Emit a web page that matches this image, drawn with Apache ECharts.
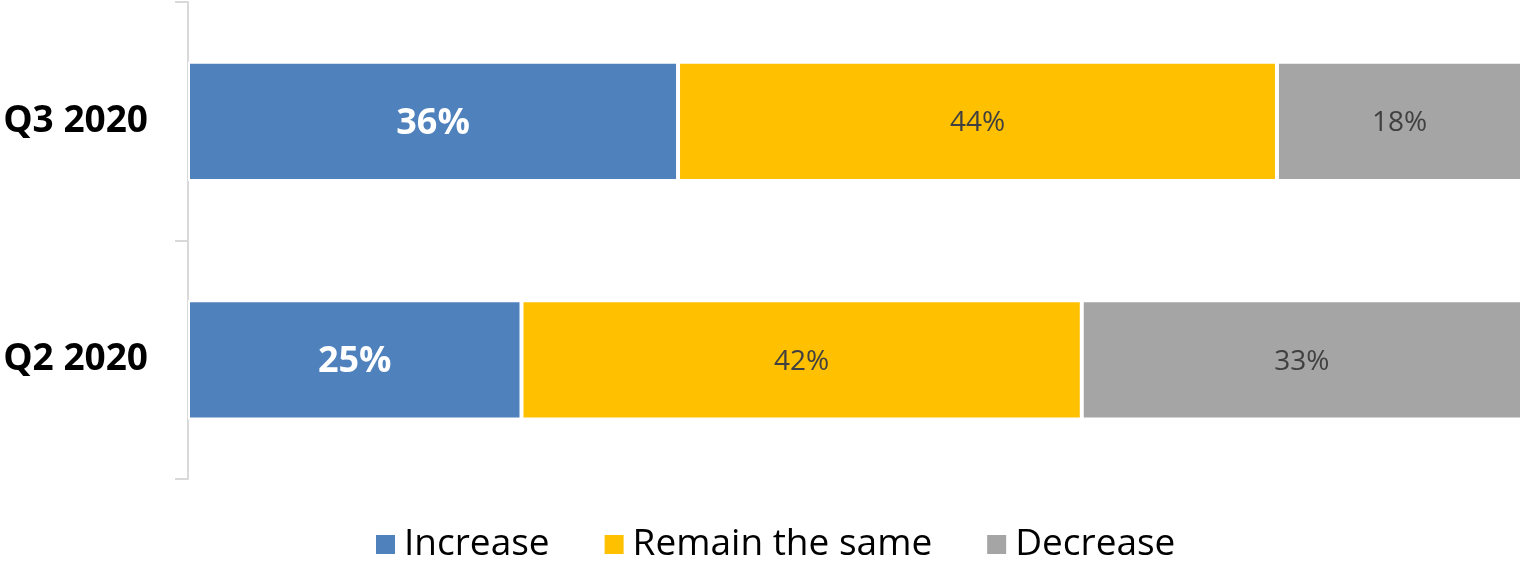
<!DOCTYPE html>
<html>
<head>
<meta charset="utf-8">
<script src="https://cdn.jsdelivr.net/npm/echarts@6/dist/echarts.min.js"></script>
<style>
html,body{margin:0;padding:0;background:#fff;}
#c{width:1522px;height:562px;}
</style>
</head>
<body>
<div id="c"></div>
<script>
// Categories (bottom to top)
const categories = ['Q2 2020', 'Q3 2020'];
const seriesNames = ['Increase', 'Remain the same', 'Decrease'];
const increase = [25, 36];
const remainSame = [42, 44];
const decrease = [33, 18];

const colors = ['#4F81BD', '#FFC000', '#A5A5A5'];
const raw = [increase, remainSame, decrease];
const totals = categories.map((_, i) => raw.reduce((s, arr) => s + arr[i], 0));

const FONT = '"Open Sans", "Noto Sans", sans-serif';

const series = raw.map((arr, si) => ({
  name: seriesNames[si],
  type: 'bar',
  stack: 'total',
  barWidth: '50%',
  itemStyle: { color: colors[si], borderColor: '#ffffff', borderWidth: 2 },
  label: {
    show: true,
    position: 'inside',
    offset: [0, 2],
    formatter: (p) => arr[p.dataIndex] + '%',
    color: si === 0 ? '#ffffff' : '#404040',
    fontFamily: FONT,
    fontWeight: si === 0 ? 'bold' : 'normal',
    fontSize: si === 0 ? 36 : 28
  },
  emphasis: { disabled: true },
  data: arr.map((v, i) => v / totals[i] * 100)
}));

const chart = echarts.init(document.getElementById('c'), null, { renderer: 'canvas' });
chart.setOption({
  animation: false,
  backgroundColor: '#ffffff',
  grid: { left: 188, right: -2, top: 2, bottom: 83, containLabel: false },
  xAxis: {
    type: 'value', min: 0, max: 100, show: false
  },
  yAxis: {
    type: 'category',
    data: categories,
    axisLine: { show: true, lineStyle: { color: '#D9D9D9', width: 2 } },
    axisTick: { show: true, length: 13, lineStyle: { color: '#D9D9D9', width: 2 } },
    axisLabel: {
      margin: 40,
      color: '#000000',
      fontFamily: FONT,
      fontWeight: 'bold',
      fontSize: 37
    },
    splitLine: { show: false }
  },
  legend: {
    data: seriesNames,
    left: 369,
    top: 521,
    itemWidth: 21,
    itemHeight: 21,
    itemGap: 53,
    icon: 'rect',
    textStyle: { fontFamily: FONT, fontSize: 37, color: '#000000', padding: [0, 0, 0, 3] }
  },
  series: series
});
</script>
</body>
</html>
